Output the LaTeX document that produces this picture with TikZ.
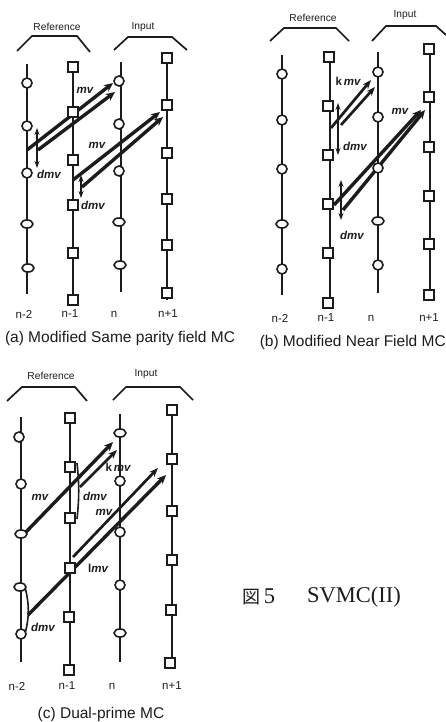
\documentclass[tikz,border=0pt]{standalone}
\usepackage{fontspec}
\setmainfont{Liberation Sans}
\newfontfamily\figfont{Liberation Serif}
\newfontfamily\cjkfont{Noto Sans CJK JP}
\usepackage{xcolor}
\usepackage{tikz}
\usetikzlibrary{arrows.meta,shapes.geometric}
\definecolor{scanink}{RGB}{28, 28, 28}
\tikzset{
  fieldline/.style={draw=scanink, line width=1.6pt},
  fieldoval/.style={ellipse, draw=scanink, fill=white, line width=1.6pt, inner sep=0pt, minimum width=10pt, minimum height=10pt},
  flatoval/.style={fieldoval, minimum width=12pt, minimum height=8pt},
  fieldsquare/.style={rectangle, draw=scanink, fill=white, line width=1.6pt, inner sep=0pt, minimum size=9.5pt},
  groupbracket/.style={draw=scanink, line width=1.7pt},
  mvarrow/.style={draw=scanink, line width=3.4pt, -{Stealth[length=9pt,width=8pt]}},
  lightarrow/.style={draw=scanink, line width=2.7pt, -{Stealth[length=9pt,width=7pt]}},
  dmvarrow/.style={draw=scanink, line width=1.4pt, {Stealth[length=7pt,width=5pt]}-{Stealth[length=7pt,width=5pt]}},
  headlabel/.style={text=scanink, font=\fontsize{10.2}{12}\selectfont, inner sep=0pt},
  fieldlabel/.style={text=scanink, font=\fontsize{11.5}{14}\selectfont, inner sep=0pt},
  mvlabel/.style={text=scanink, font=\fontsize{11.5}{14}\selectfont\bfseries\itshape, inner sep=0pt},
  subcaption/.style={text=scanink, font=\fontsize{15.5}{18}\selectfont, inner sep=0pt},
  figlabel/.style={text=scanink, font=\fontsize{22.5}{27}\selectfont, inner sep=0pt}
}

\begin{document}
\begin{tikzpicture}[x=1pt,y=-1pt]
  \useasboundingbox (0,0) rectangle (446,722);

  % panel a
  \coordinate (at1) at (27,64);  \coordinate (ab1) at (27,294);
  \coordinate (at2) at (73,62);  \coordinate (ab2) at (73,305);
  \coordinate (at3) at (121,62); \coordinate (ab3) at (121,292);
  \coordinate (at4) at (167,58); \coordinate (ab4) at (167,300);
  \draw[fieldline] (at1) -- (ab1);
  \draw[fieldline] (at2) -- (ab2);
  \draw[fieldline] (at3) -- (ab3);
  \draw[fieldline] (at4) -- (ab4);
  \coordinate (amv1s) at (27,150);  \coordinate (amv1e) at (113,83);
  \coordinate (amv2s) at (38,150);  \coordinate (amv2e) at (115,92);
  \coordinate (amv3s) at (73,180);  \coordinate (amv3e) at (160,112);
  \coordinate (amv4s) at (82,187);  \coordinate (amv4e) at (163,117);
  \coordinate (admv1s) at (37,128); \coordinate (admv1e) at (37,168);
  \coordinate (admv2s) at (81,175); \coordinate (admv2e) at (81,198);
  \draw[mvarrow] (amv1s) -- (amv1e);
  \draw[mvarrow] (amv2s) -- (amv2e);
  \draw[mvarrow] (amv3s) -- (amv3e);
  \draw[mvarrow] (amv4s) -- (amv4e);
  \draw[dmvarrow] (admv1s) -- (admv1e);
  \draw[dmvarrow] (admv2s) -- (admv2e);
  \node[fieldoval] (a11) at (27,83) {};
  \node[fieldoval] (a12) at (27,126) {};
  \node[fieldoval] (a13) at (27,173) {};
  \node[flatoval] (a14) at (27,224) {};
  \node[flatoval] (a15) at (28,268) {};
  \node[fieldsquare] (a21) at (73,67) {};
  \node[fieldsquare] (a22) at (73,112) {};
  \node[fieldsquare] (a23) at (73,160) {};
  \node[fieldsquare] (a24) at (73,205) {};
  \node[fieldsquare] (a25) at (73,253) {};
  \node[fieldsquare] (a26) at (73,300) {};
  \node[fieldoval] (a31) at (119,81) {};
  \node[fieldoval] (a32) at (119,124) {};
  \node[fieldoval] (a33) at (119,171) {};
  \node[flatoval] (a34) at (119,222) {};
  \node[flatoval] (a35) at (120,265) {};
  \node[fieldsquare] (a41) at (167,58) {};
  \node[fieldsquare] (a42) at (167,105) {};
  \node[fieldsquare] (a43) at (167,153) {};
  \node[fieldsquare] (a44) at (167,199) {};
  \node[fieldsquare] (a45) at (167,245) {};
  \node[fieldsquare] (a46) at (167,293) {};
  \draw[groupbracket] (17,51) -- (32,36) -- (77,36) -- (90,52);
  \draw[groupbracket] (114,50) -- (128,37) -- (172,37) -- (187,50);
  \node[headlabel] (arefer) at (57,27) {Reference};
  \node[headlabel] (ainput) at (143,27) {Input};
  \node[mvlabel] (amvu) at (85,90) {mv};
  \node[mvlabel] (admvu) at (49,174) {dmv};
  \node[mvlabel] (amvl) at (97,145) {mv};
  \node[mvlabel] (admvl) at (93,205) {dmv};
  \node[fieldlabel] (an1) at (24,314) {n-2};
  \node[fieldlabel] (an2) at (70,314) {n-1};
  \node[fieldlabel] (an3) at (114,314) {n};
  \node[fieldlabel] (an4) at (168,314) {n+1};
  \node[subcaption] (acap) at (120,338) {(a) Modified Same parity field MC};

  % panel b
  \coordinate (bt1) at (282,55);  \coordinate (bb1) at (282,295);
  \coordinate (bt2) at (330,52);  \coordinate (bb2) at (330,305);
  \coordinate (bt3) at (378,52);  \coordinate (bb3) at (378,293);
  \coordinate (bt4) at (430,48);  \coordinate (bb4) at (430,300);
  \draw[fieldline] (bt1) -- (bb1);
  \draw[fieldline] (bt2) -- (bb2);
  \draw[fieldline] (bt3) -- (bb3);
  \draw[fieldline] (bt4) -- (bb4);
  \coordinate (bmv1s) at (331,128); \coordinate (bmv1e) at (371,80);
  \coordinate (bmv2s) at (341,125); \coordinate (bmv2e) at (375,87);
  \coordinate (bmv3s) at (334,205); \coordinate (bmv3e) at (421,110);
  \coordinate (bmv4s) at (343,210); \coordinate (bmv4e) at (425,110);
  \coordinate (bdmv1s) at (338,103); \coordinate (bdmv1e) at (338,155);
  \coordinate (bdmv2s) at (341,180); \coordinate (bdmv2e) at (341,220);
  \draw[lightarrow] (bmv1s) -- (bmv1e);
  \draw[lightarrow] (bmv2s) -- (bmv2e);
  \draw[mvarrow] (bmv3s) -- (bmv3e);
  \draw[mvarrow] (bmv4s) -- (bmv4e);
  \draw[dmvarrow] (bdmv1s) -- (bdmv1e);
  \draw[dmvarrow] (bdmv2s) -- (bdmv2e);
  \node[fieldoval] (b11) at (282,74) {};
  \node[fieldoval] (b12) at (282,120) {};
  \node[fieldoval] (b13) at (282,169) {};
  \node[flatoval] (b14) at (282,224) {};
  \node[fieldoval] (b15) at (282,269) {};
  \node[fieldsquare] (b21) at (329,57) {};
  \node[fieldsquare] (b22) at (328,106) {};
  \node[fieldsquare] (b23) at (328,155) {};
  \node[fieldsquare] (b24) at (328,204) {};
  \node[fieldsquare] (b25) at (328,253) {};
  \node[fieldsquare] (b26) at (328,303) {};
  \node[fieldoval] (b31) at (378,72) {};
  \node[fieldoval] (b32) at (378,117) {};
  \node[fieldoval] (b33) at (378,168) {};
  \node[flatoval] (b34) at (378,221) {};
  \node[fieldoval] (b35) at (378,265) {};
  \node[fieldsquare] (b41) at (429,49) {};
  \node[fieldsquare] (b42) at (429,97) {};
  \node[fieldsquare] (b43) at (429,147) {};
  \node[fieldsquare] (b44) at (429,196) {};
  \node[fieldsquare] (b45) at (429,244) {};
  \node[fieldsquare] (b46) at (429,295) {};
  \draw[groupbracket] (270,41) -- (284,28) -- (336,28) -- (349,41);
  \draw[groupbracket] (372,41) -- (386,26) -- (436,26) -- (446,35);
  \node[headlabel] (brefer) at (313,18) {Reference};
  \node[headlabel] (binput) at (405,15) {Input};
  \node[mvlabel] (bkmv) at (348,81) {\upshape k\itshape\,mv};
  \node[mvlabel] (bdmvu) at (355,146) {dmv};
  \node[mvlabel] (bmv) at (400,111) {mv};
  \node[mvlabel] (bdmvl) at (352,235) {dmv};
  \node[fieldlabel] (bn1) at (280,318) {n-2};
  \node[fieldlabel] (bn2) at (326,318) {n-1};
  \node[fieldlabel] (bn3) at (371,318) {n};
  \node[fieldlabel] (bn4) at (429,318) {n+1};
  \node[subcaption, anchor=east] (bcap) at (446,342) {(b) Modified Near Field MC};

  % panel c
  \coordinate (ct1) at (21,417);  \coordinate (cb1) at (21,662);
  \coordinate (ct2) at (70,412);  \coordinate (cb2) at (70,675);
  \coordinate (ct3) at (120,414); \coordinate (cb3) at (120,662);
  \coordinate (ct4) at (172,410); \coordinate (cb4) at (172,668);
  \draw[fieldline] (ct1) -- (cb1);
  \draw[fieldline] (ct2) -- (cb2);
  \draw[fieldline] (ct3) -- (cb3);
  \draw[fieldline] (ct4) -- (cb4);
  \coordinate (cmv1s) at (25,533); \coordinate (cmv1e) at (113,442);
  \coordinate (cmv2s) at (80,487); \coordinate (cmv2e) at (117,450);
  \coordinate (cmv3s) at (73,557); \coordinate (cmv3e) at (158,468);
  \coordinate (cmv4s) at (28,615); \coordinate (cmv4e) at (166,475);
  \coordinate (cdmv1s) at (77,463); \coordinate (cdmv1e) at (77,519);
  \coordinate (cdmv2s) at (25,587); \coordinate (cdmv2e) at (25,634);
  \draw[mvarrow] (cmv1s) -- (cmv1e);
  \draw[lightarrow] (cmv2s) -- (cmv2e);
  \draw[lightarrow] (cmv3s) -- (cmv3e);
  \draw[mvarrow] (cmv4s) -- (cmv4e);
  \draw[fieldline] (cdmv1s) to[bend left=6] (cdmv1e);
  \draw[fieldline] (cdmv2s) to[bend left=14] (cdmv2e);
  \node[fieldoval] (c11) at (19,437) {};
  \node[fieldoval] (c12) at (21,484) {};
  \node[flatoval] (c13) at (21,534) {};
  \node[flatoval] (c14) at (20,587) {};
  \node[fieldoval] (c15) at (21,634) {};
  \node[fieldsquare] (c21) at (70,418) {};
  \node[fieldsquare] (c22) at (70,467) {};
  \node[fieldsquare] (c23) at (70,518) {};
  \node[fieldsquare] (c24) at (70,568) {};
  \node[fieldsquare] (c25) at (69,617) {};
  \node[fieldsquare] (c26) at (69,670) {};
  \node[flatoval] (c31) at (120,433) {};
  \node[fieldoval] (c32) at (120,481) {};
  \node[fieldoval] (c33) at (120,532) {};
  \node[fieldoval] (c34) at (120,585) {};
  \node[flatoval] (c35) at (120,633) {};
  \node[fieldsquare] (c41) at (172,410) {};
  \node[fieldsquare] (c42) at (172,459) {};
  \node[fieldsquare] (c43) at (172,511) {};
  \node[fieldsquare] (c44) at (172,560) {};
  \node[fieldsquare] (c45) at (171,610) {};
  \node[fieldsquare] (c46) at (170,663) {};
  \draw[groupbracket] (7,401) -- (22,387) -- (75,387) -- (87,401);
  \draw[groupbracket] (113,400) -- (126,387) -- (180,387) -- (193,400);
  \node[headlabel] (crefer) at (51,376) {Reference};
  \node[headlabel] (cinput) at (146,374) {Input};
  \node[mvlabel] (cmvu) at (40,497) {mv};
  \node[mvlabel] (cdmvu) at (95,496) {dmv};
  \node[mvlabel] (ckmv) at (118,467) {\upshape k\itshape\,mv};
  \node[mvlabel] (cmvl) at (104,512) {mv};
  \node[mvlabel] (clmv) at (98,568) {\upshape l\itshape mv};
  \node[mvlabel] (cdmvl) at (43,627) {dmv};
  \node[fieldlabel] (cn1) at (17,686) {n-2};
  \node[fieldlabel] (cn2) at (67,686) {n-1};
  \node[fieldlabel] (cn3) at (112,686) {n};
  \node[fieldlabel] (cn4) at (172,686) {n+1};
  \node[subcaption] (ccap) at (101,714) {(c) Dual-prime MC};

  \node[figlabel, anchor=west] (figno) at (242,597) {{\fontsize{18}{22}\selectfont\cjkfont 図}\,{\figfont 5}};
  \node[figlabel, anchor=west] (figname) at (307,597) {\figfont SVMC(II)};
\end{tikzpicture}
\end{document}
